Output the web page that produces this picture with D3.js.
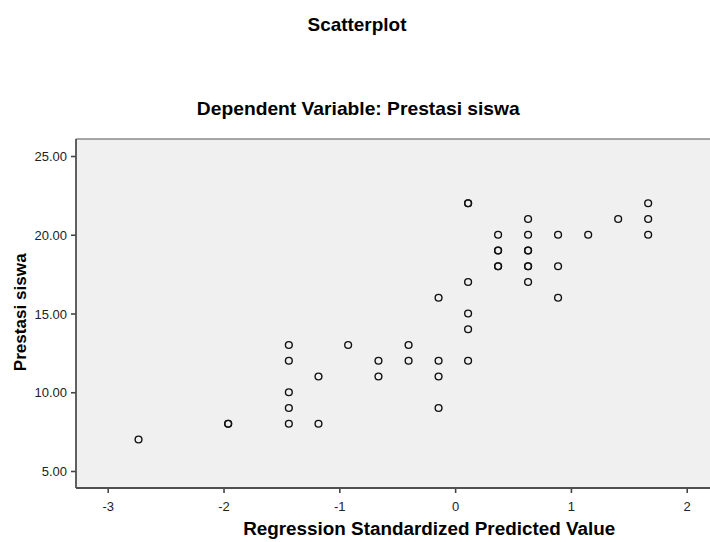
<!DOCTYPE html>
<html>
<head>
<meta charset="utf-8">
<script src="https://cdn.jsdelivr.net/npm/d3@7"></script>
<style>
  html, body { margin: 0; padding: 0; background: #fff; }
  svg { display: block; }
  text { font-family: "Liberation Sans", Arial, sans-serif; }
</style>
</head>
<body>
<div id="chart"></div>
<script>
// ---- data ----
const predicted = [
  -2.734, -1.96, -1.96,
  -1.436, -1.436, -1.436, -1.436, -1.436,
  -1.18, -1.18,
  -0.924,
  -0.662, -0.662,
  -0.402, -0.402,
  -0.143, -0.143, -0.143, -0.143,
  0.112, 0.112, 0.112, 0.112, 0.112, 0.112,
  0.371, 0.371, 0.371, 0.371, 0.371,
  0.63, 0.63, 0.63, 0.63, 0.63, 0.63, 0.63,
  0.889, 0.889, 0.889,
  1.149,
  1.408,
  1.667, 1.667, 1.667
];
const prestasi = [
  7, 8, 8,
  13, 12, 10, 9, 8,
  11, 8,
  13,
  12, 11,
  13, 12,
  16, 12, 11, 9,
  22, 22, 17, 15, 14, 12,
  20, 19, 19, 18, 18,
  21, 20, 19, 19, 18, 18, 17,
  20, 18, 16,
  20,
  21,
  22, 21, 20
];
const xTicks = [-3, -2, -1, 0, 1, 2];
const yTicks = [5, 10, 15, 20, 25];
const titleText = "Scatterplot";
const subtitleText = "Dependent Variable: Prestasi siswa";
const xTitleText = "Regression Standardized Predicted Value";
const yTitleText = "Prestasi siswa";

// ---- layout ----
const W = 710, H = 542;
const plot = { left: 76, top: 139, right: 710, bottom: 488 };

const svg = d3.select("#chart").append("svg")
  .attr("width", W).attr("height", H);

const x = d3.scaleLinear().domain([-3.274, 2.201]).range([plot.left, plot.right]);
const y = d3.scaleLinear().domain([3.92, 26.08]).range([plot.bottom, plot.top]);

// background
svg.append("rect")
  .attr("x", plot.left).attr("y", plot.top)
  .attr("width", plot.right - plot.left).attr("height", plot.bottom - plot.top)
  .attr("fill", "#f0f0f0");

// top border
svg.append("line")
  .attr("x1", plot.left).attr("x2", plot.right)
  .attr("y1", plot.top).attr("y2", plot.top)
  .attr("stroke", "#8a8a8a").attr("stroke-width", 1.5);

// axes
const xAxis = d3.axisBottom(x).tickValues(xTicks).tickSize(5).tickPadding(4)
  .tickFormat(d => String(d));
const yAxis = d3.axisLeft(y).tickValues(yTicks).tickSize(5).tickPadding(4)
  .tickFormat(d => d.toFixed(2));

const gx = svg.append("g").attr("transform", `translate(0,${plot.bottom})`).call(xAxis);
const gy = svg.append("g").attr("transform", `translate(${plot.left},0)`).call(yAxis);

[gx, gy].forEach(g => {
  g.select(".domain").remove();
  g.selectAll(".tick line").attr("stroke", "#444").attr("stroke-width", 1.6);
  g.selectAll(".tick text")
    .attr("fill", "#222")
    .style("font-family", "'Liberation Sans', Arial, sans-serif")
    .style("font-size", "13px");
});
gx.selectAll(".tick text").attr("dy", "1.05em");
gy.selectAll(".tick text").attr("dy", "0.36em");

// axis lines (left and bottom)
svg.append("line")
  .attr("x1", plot.left).attr("x2", plot.left)
  .attr("y1", plot.top).attr("y2", plot.bottom)
  .attr("stroke", "#505050").attr("stroke-width", 1.8);
svg.append("line")
  .attr("x1", plot.left).attr("x2", plot.right)
  .attr("y1", plot.bottom).attr("y2", plot.bottom)
  .attr("stroke", "#505050").attr("stroke-width", 1.8);

// points
const pts = predicted.map((v, i) => ({ v, p: prestasi[i] }));
svg.append("g").selectAll("circle").data(pts).enter().append("circle")
  .attr("cx", d => x(d.v))
  .attr("cy", d => y(d.p))
  .attr("r", 3.4)
  .attr("fill", "none")
  .attr("stroke", "#111")
  .attr("stroke-width", 1.4);

// text helper that fits a given width
function fitText(sel, targetWidth, base) {
  sel.style("font-size", base + "px");
  const w = sel.node().getComputedTextLength();
  sel.style("font-size", (base * targetWidth / w).toFixed(2) + "px");
  return sel;
}

fitText(svg.append("text").text(titleText)
  .attr("x", 357).attr("y", 30.5).attr("text-anchor", "middle")
  .attr("font-weight", "bold").attr("fill", "#000"), 99, 16);

fitText(svg.append("text").text(subtitleText)
  .attr("x", 358.3).attr("y", 115).attr("text-anchor", "middle")
  .attr("font-weight", "bold").attr("fill", "#000"), 323, 16);

fitText(svg.append("text").text(xTitleText)
  .attr("x", 429.2).attr("y", 535).attr("text-anchor", "middle")
  .attr("font-weight", "bold").attr("fill", "#000"), 372, 18);

fitText(svg.append("text").text(yTitleText)
  .attr("transform", "translate(26,312.3) rotate(-90)")
  .attr("text-anchor", "middle")
  .attr("font-weight", "bold").attr("fill", "#000"), 118, 17);
</script>
</body>
</html>
